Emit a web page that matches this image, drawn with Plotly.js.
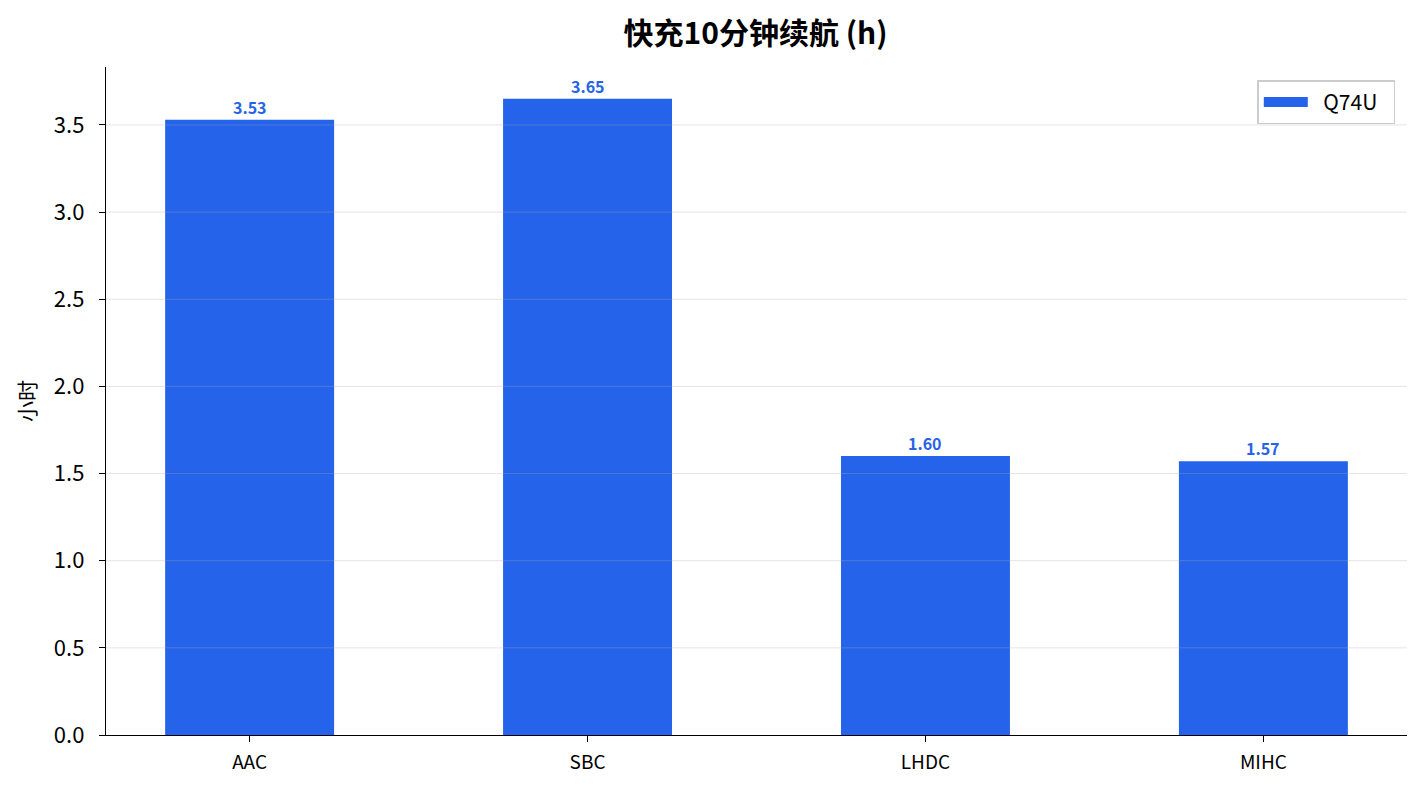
<!DOCTYPE html>
<html>
<head>
<meta charset="utf-8">
<script src="https://cdn.plot.ly/plotly-3.0.1.min.js"></script>
<style>html,body{margin:0;padding:0;background:#fff;}#chart{width:1423px;height:791px;}</style>
</head>
<body>
<div id="chart"></div>
<script>
const categories = ["AAC", "SBC", "LHDC", "MIHC"];
const values = [3.53, 3.65, 1.60, 1.57];
const seriesName = "Q74U";
const yTicks = [0, 0.5, 1.0, 1.5, 2.0, 2.5, 3.0, 3.5];
const yTickText = ["0.0", "0.5", "1.0", "1.5", "2.0", "2.5", "3.0", "3.5"];

const FONT = '"Noto Sans CJK SC", "Noto Sans", sans-serif';
const BLUE = '#2563EB';

const barTrace = {
  type: 'bar',
  x: categories,
  y: values,
  name: seriesName,
  width: 0.5,
  marker: {color: BLUE},
  showlegend: false
};

// legend entry drawn as a wide filled patch like the reference
const legendTrace = {
  type: 'scatter',
  mode: 'lines',
  x: [null],
  y: [null],
  name: '\u2002' + seriesName + '\u2002',
  line: {color: BLUE, width: 14},
  showlegend: true
};

const valueLabels = categories.map((c, i) => ({
  x: c, y: values[i], xref: 'x', yref: 'y',
  text: '<b>' + values[i].toFixed(2) + '</b>',
  showarrow: false, yanchor: 'bottom', yshift: -1,
  font: {family: FONT, size: 16, color: BLUE}
}));

const gridShapes = yTicks.filter(v => v > 0).map(v => ({
  type: 'line', xref: 'paper', yref: 'y', x0: 0, x1: 1, y0: v, y1: v,
  line: {color: 'rgba(170,170,170,0.32)', width: 1}, layer: 'above'
}));

const layout = {
  width: 1423,
  height: 791,
  margin: {l: 106, r: 16, t: 67, b: 56},
  paper_bgcolor: '#fff',
  plot_bgcolor: '#fff',
  font: {family: FONT, size: 18, color: '#000'},
  title: {text: '<b>快充10分钟续航 (h)</b>', font: {family: FONT, size: 30, color: '#000'}, x: 0.531, xanchor: 'center', y: 0.958, yanchor: 'middle'},
  xaxis: {
    type: 'category',
    range: [-0.425, 3.425],
    showline: true, linecolor: '#000', linewidth: 1.2,
    ticks: 'outside', ticklen: 6, tickcolor: '#000',
    ticklabelstandoff: 4,
    tickfont: {family: FONT, size: 19, color: '#000'},
    showgrid: false, zeroline: false
  },
  yaxis: {
    range: [0, 3.8325],
    tickvals: yTicks, ticktext: yTickText,
    showline: true, linecolor: '#000', linewidth: 1.2,
    ticks: 'outside', ticklen: 6, tickcolor: '#000',
    ticklabelstandoff: 10,
    tickfont: {family: FONT, size: 22, color: '#000'},
    showgrid: false,
    zeroline: false,
    title: {text: '小时', font: {family: FONT, size: 21, color: '#000'}, standoff: 12}
  },
  shapes: gridShapes,
  annotations: valueLabels,
  legend: {
    x: 0.991, xanchor: 'right', y: 0.98, yanchor: 'top',
    bgcolor: '#fff', bordercolor: '#cccccc', borderwidth: 1.5,
    font: {family: FONT, size: 21, color: '#000'},
    itemwidth: 44
  }
};

Plotly.newPlot('chart', [barTrace, legendTrace], layout, {displayModeBar: false, staticPlot: true});
</script>
</body>
</html>
